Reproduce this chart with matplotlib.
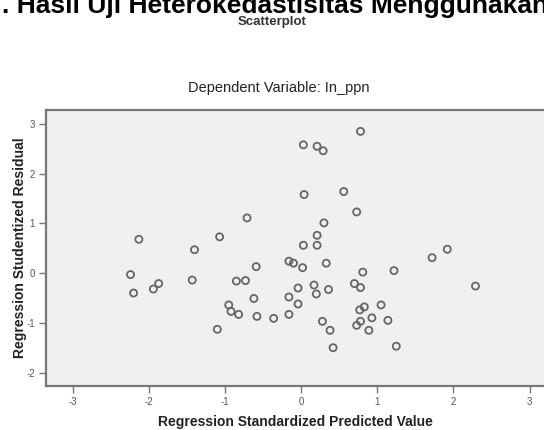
import matplotlib
matplotlib.use("Agg")
import matplotlib.pyplot as plt

# predicted (x) and studentized residual (y) values
pred = [-2.13, -2.24, -2.20, -1.94, -1.87, -1.40, -1.43, -1.07, -0.71, -0.85,
        -0.73, -0.95, -0.92, -0.82, -1.10, 0.03, 0.21, 0.29, 0.78, 0.04,
        0.56, 0.73, 0.30, 0.21, 0.03, 0.21, -0.59, -0.16, -0.10, 0.02,
        0.33, -0.62, -0.58, -0.36, -0.16, -0.16, -0.04, -0.04, 0.17, 0.20,
        0.36, 0.28, 0.38, 0.42, 0.81, 0.70, 0.78, 0.77, 0.83, 0.78,
        0.73, 0.93, 0.89, 1.05, 1.22, 1.72, 1.92, 2.29, 1.14, 1.25]
resid = [0.68, -0.03, -0.40, -0.32, -0.21, 0.47, -0.14, 0.73, 1.11, -0.16,
         -0.15, -0.64, -0.77, -0.83, -1.13, 2.58, 2.55, 2.46, 2.85, 1.58,
         1.64, 1.23, 1.01, 0.76, 0.56, 0.56, 0.13, 0.24, 0.20, 0.11,
         0.20, -0.51, -0.87, -0.91, -0.83, -0.48, -0.30, -0.62, -0.24, -0.42,
         -0.33, -0.97, -1.15, -1.50, 0.02, -0.21, -0.29, -0.74, -0.68, -0.97,
         -1.05, -0.90, -1.15, -0.64, 0.05, 0.31, 0.48, -0.26, -0.95, -1.47]

xticks = [-3, -2, -1, 0, 1, 2, 3]
yticks = [-2, -1, 0, 1, 2, 3]

plt.rcParams['font.family'] = ['Liberation Sans', 'DejaVu Sans']

fig = plt.figure(figsize=(5.44, 4.30), dpi=100)

# caption cut off at the top of the screenshot
fig.text(0.505, 0.986, ". Hasil Uji Heterokedastisitas Menggunakan", ha='center', va='center',
         fontsize=19, fontweight='bold', color='black')
fig.text(0.5, 0.950, "Scatterplot", ha='center', va='center',
         fontsize=9.5, fontweight='bold', color='#333333')
fig.text(0.513, 0.795, "Dependent Variable: In_ppn", ha='center', va='center',
         fontsize=10.5, color='#222222')

ax = fig.add_axes([46 / 544, 44 / 430, 498 / 544, 276 / 430])
ax.set_facecolor('#f0f0f0')
ax.scatter(pred, resid, s=26, facecolors='none', edgecolors='#666666', linewidths=1.3)

ax.set_xlim(-3.35, 3.19)
ax.set_ylim(-2.27, 3.28)
ax.set_xticks(xticks)
ax.set_yticks(yticks)
ax.set_xticklabels([str(t) for t in xticks])
ax.set_yticklabels([str(t) for t in yticks])
ax.tick_params(axis='both', direction='out', length=5, width=1, color='#777777',
               labelsize=7, labelcolor='#555555', pad=3)

ax.spines['right'].set_visible(False)
for side in ['top', 'left', 'bottom']:
    ax.spines[side].set_color('#777777')
    ax.spines[side].set_linewidth(1.6)

ax.set_xlabel("Regression Standardized Predicted Value", fontsize=10,
              fontweight='bold', color='#222222', labelpad=6)
ax.set_ylabel("Regression Studentized Residual", fontsize=10,
              fontweight='bold', color='#222222', va='center')
ax.yaxis.set_label_coords(-0.052, 0.5)

plt.savefig('out.png', dpi=100)
